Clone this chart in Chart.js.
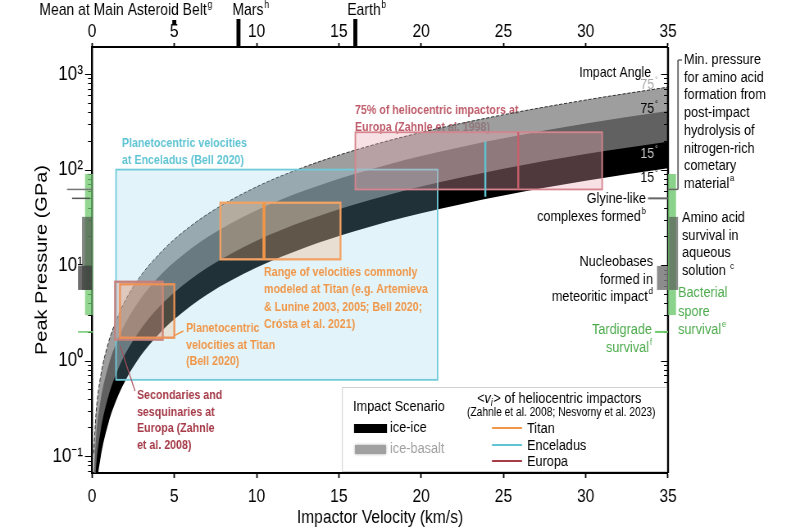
<!DOCTYPE html>
<html>
<head>
<meta charset="utf-8">
<script src="https://cdn.jsdelivr.net/npm/chart.js@4.4.1/dist/chart.umd.min.js"></script>
<style>
  html, body { margin: 0; padding: 0; background: #fff; overflow: hidden; }
  /* the figure is horizontally condensed, so draw it wider and squeeze it */
  #wrap { width: 976px; height: 530px; transform: scaleX(0.819672); transform-origin: 0 0; }
</style>
</head>
<body>
<div id="wrap"><canvas id="chart"></canvas></div>
<script>
//* Data

// velocities (km/s) where the peak pressure curves were read
const velocity = [0.1, 0.25, 0.5, 1, 1.5, 2, 3, 4, 5, 7, 10, 13, 16, 20, 25, 30, 35];
// peak pressure (GPa) per impact scenario and impact angle
const iceBasalt75 = [0.107, 0.29, 0.65, 1.55, 2.7, 4.2, 7.9, 12.6, 18.6, 34, 66, 108, 160, 245, 375, 535, 730];
const iceIce75    = [0.060, 0.163, 0.365, 0.89, 1.57, 2.42, 4.58, 7.38, 10.8, 19.6, 37.6, 61.2, 90.7, 139, 213, 304, 410];
const iceBasalt15 = [0.029, 0.078, 0.175, 0.426, 0.754, 1.16, 2.19, 3.54, 5.18, 9.39, 18.0, 29.3, 43.4, 66.5, 102, 146, 196];
const iceIce15    = [0.0151, 0.041, 0.0916, 0.223, 0.395, 0.607, 1.15, 1.85, 2.71, 4.92, 9.43, 15.4, 22.8, 34.9, 53.5, 76.3, 103];

// velocity / pressure ranges of the boxes
const enceladusVel = [1.46, 21.0],  enceladusP = [0.63, 100];
const titanModelVel = [7.8, 15.1],  titanModelP = [11.5, 45];
const titanPlanVel = [1.7, 5.0],    titanPlanP = [1.74, 6.3];
const europaSecVel = [1.4, 4.3],    europaSecP = [1.66, 6.7];
const europaHelioVel = [16.0, 31.0], europaHelioP = [62, 246];

// mean heliocentric impact velocities (km/s) and the pressure span of their marks
const helioNames = ['Titan', 'Enceladus', 'Europa'];
const helioVel = [10.45, 23.9, 25.9];
const helioPLow = [11.5, 52, 62];
const helioPHigh = [45, 198, 246];

// top axis markers (km/s)
const topNames = ['Mean at Main Asteroid Belt', 'Mars', 'Earth'];
const topNotes = ['g', 'h', 'b'];
const topVel = [5.0, 8.9, 16.0];

// biology / chemistry pressure thresholds (GPa)
const aminoFormationMin = 62;
const glycineComplexes = 50;
const sporeRange = [3, 90];
const aminoSurvivalRange = [5.5, 32];
const nucleobaseRange = [5.5, 9.8];
const tardigradeP = 2.0;

// axes
const velTicks = [0, 5, 10, 15, 20, 25, 30, 35];
const yMin = 0.0667, yMax = 1920;
const pressureTicks = [];
for (let e = -2; e <= 3; e++) {
  for (let m = 1; m <= 9; m++) {
    const v = +(m * Math.pow(10, e)).toPrecision(3);
    if (v >= yMin && v <= yMax) pressureTicks.push(v);
  }
}

// horizontal squeeze: screen px -> canvas px
const SQ = 800 / 976;
const X = px => px / SQ;

const SANS = "'Liberation Sans', Arial, sans-serif";

const SUP = { '-': '\u207B', '0': '\u2070', '1': '\u00B9', '2': '\u00B2', '3': '\u00B3' };
const powLabel = e => '10' + String(e).split('').map(c => SUP[c]).join('');
const isPow10 = v => Math.abs(Math.log10(v) - Math.round(Math.log10(v))) < 1e-6;

// colours
const cyan = 'rgb(96,196,212)';
const orange = 'rgb(240,150,72)';
const roseText = 'rgb(190,92,106)';
const brickText = 'rgb(165,58,72)';
const green = 'rgb(76,170,76)';

//* text helpers (x in canvas px)
function txt(ctx, s, x, y, opt = {}) {
  const size = opt.size || 15.5;
  const font = (opt.italic ? 'italic ' : '') + (opt.bold ? 'bold ' : '') + size + 'px ' + SANS;
  const supFont = (opt.bold ? 'bold ' : '') + (size * 0.62).toFixed(1) + 'px ' + SANS;
  ctx.font = font;
  const w = ctx.measureText(s).width;
  let supW = 0;
  if (opt.sup) { ctx.font = supFont; supW = ctx.measureText(opt.sup).width + 1; }
  let x0 = x;
  if (opt.align === 'right') x0 = x - w - supW;
  if (opt.align === 'center') x0 = x - (w + supW) / 2;
  ctx.fillStyle = opt.color || '#000';
  ctx.textAlign = 'left';
  ctx.textBaseline = 'alphabetic';
  ctx.font = font;
  ctx.fillText(s, x0, y);
  if (opt.sup) { ctx.font = supFont; ctx.fillText(opt.sup, x0 + w + 1, y - size * 0.42); }
  return x0 + w + supW;
}

function block(ctx, lines, x, y0, step, opt) {
  lines.forEach((l, i) => {
    const o = Object.assign({}, opt);
    let s = l;
    if (Array.isArray(l)) { s = l[0]; o.sup = l[1]; }
    txt(ctx, s, x, y0 + i * step, o);
  });
}

function box(ctx, xs, ys, vr, pr, stroke, fill, lw) {
  const x0 = xs.getPixelForValue(vr[0]), x1 = xs.getPixelForValue(vr[1]);
  const y0 = ys.getPixelForValue(pr[1]), y1 = ys.getPixelForValue(pr[0]);
  ctx.fillStyle = fill;
  ctx.fillRect(x0, y0, x1 - x0, y1 - y0);
  ctx.strokeStyle = stroke;
  ctx.lineWidth = lw;
  ctx.strokeRect(x0, y0, x1 - x0, y1 - y0);
}

function line(ctx, x0, y0, x1, y1, color, lw) {
  ctx.beginPath();
  ctx.moveTo(x0, y0);
  ctx.lineTo(x1, y1);
  ctx.strokeStyle = color;
  ctx.lineWidth = lw;
  ctx.stroke();
}

function bar(ctx, ys, x0, x1, pr, color) {
  const y0 = ys.getPixelForValue(pr[1]), y1 = ys.getPixelForValue(pr[0]);
  ctx.fillStyle = color;
  ctx.fillRect(x0, y0, x1 - x0, y1 - y0);
}

//* plugin: text that sits under the band
const underBand = {
  id: 'underBand',
  beforeDatasetsDraw(chart) {
    const ctx = chart.ctx;
    ctx.save();
    block(ctx, ['75% of heliocentric impactors at', 'Europa (Zahnle et al. 1998)'], X(355), 114, 17,
      { size: 13, bold: true, color: roseText });
    ctx.restore();
  }
};

//* plugin: boxes, marks, annotations, legend
const overlay = {
  id: 'overlay',
  afterDatasetsDraw(chart) {
    const ctx = chart.ctx;
    const xs = chart.scales.x, ys = chart.scales.y, xt = chart.scales.x2;
    const a = chart.chartArea;
    ctx.save();
    ctx.beginPath();
    ctx.rect(a.left, a.top, a.right - a.left, a.bottom - a.top);
    ctx.clip();

    // boxes
    box(ctx, xs, ys, enceladusVel, enceladusP, 'rgb(112,202,216)', 'rgba(135,210,230,0.24)', 1.8);
    box(ctx, xs, ys, titanModelVel, titanModelP, 'rgb(242,162,100)', 'rgba(246,176,120,0.30)', 2.3);
    box(ctx, xs, ys, europaSecVel, europaSecP, 'rgb(196,128,124)', 'rgba(205,145,140,0.32)', 2.3);
    box(ctx, xs, ys, titanPlanVel, titanPlanP, 'rgb(236,146,86)', 'rgba(240,160,100,0.22)', 2.3);
    box(ctx, xs, ys, europaHelioVel, europaHelioP, 'rgb(214,132,142)', 'rgba(232,166,176,0.34)', 1.8);

    // mean heliocentric velocities
    const helioColors = [orange, cyan, 'rgb(200,96,108)'];
    const helioWidths = [X(3), X(2), X(2)];
    helioVel.forEach((v, i) => {
      const x = xs.getPixelForValue(v);
      line(ctx, x, ys.getPixelForValue(helioPLow[i]), x, ys.getPixelForValue(helioPHigh[i]), helioColors[i], helioWidths[i]);
    });
    ctx.restore();

    ctx.save();
    // right frame
    line(ctx, a.right, a.top, a.right, a.bottom, '#000', X(2));

    // pressure tick marks: outward on the left, inward on the right
    pressureTicks.forEach(v => {
      const y = Math.round(ys.getPixelForValue(v)) + 0.5;
      const len = X(isPow10(v) ? 7 : 4);
      line(ctx, a.left - len, y, a.left, y, '#000', 1);
      line(ctx, a.right - len, y, a.right, y, '#000', 1);
    });

    // left-side threshold marks
    bar(ctx, ys, X(85), X(93), sporeRange, 'rgba(110,200,110,0.75)');
    bar(ctx, ys, X(82), X(92), aminoSurvivalRange, 'rgba(80,90,80,0.72)');
    bar(ctx, ys, X(78), X(92), nucleobaseRange, 'rgba(60,60,60,0.75)');
    line(ctx, X(67), ys.getPixelForValue(aminoFormationMin), X(92), ys.getPixelForValue(aminoFormationMin), '#777', 1.5);
    line(ctx, X(72), ys.getPixelForValue(glycineComplexes), X(90), ys.getPixelForValue(glycineComplexes), '#555', 1.5);
    line(ctx, X(78), ys.getPixelForValue(tardigradeP), X(93), ys.getPixelForValue(tardigradeP), 'rgb(110,200,110)', 1.5);

    // right-side threshold marks
    bar(ctx, ys, a.right, a.right + X(8), sporeRange, 'rgba(110,200,110,0.8)');
    bar(ctx, ys, a.right + X(1), a.right + X(10), aminoSurvivalRange, 'rgba(90,95,90,0.72)');
    bar(ctx, ys, a.right - X(11), a.right, nucleobaseRange, 'rgba(120,120,120,0.85)');
    const yAF = ys.getPixelForValue(aminoFormationMin);
    line(ctx, a.right, yAF, a.right + X(10), yAF, '#666', 1.5);
    line(ctx, a.right + X(10), yAF, a.right + X(10), 60, '#666', X(1.5));
    line(ctx, a.right + X(10), 60, a.right + X(14), 60, '#666', 1.5);
    const yG = ys.getPixelForValue(glycineComplexes);
    line(ctx, a.right - X(20), yG, a.right, yG, '#666', 2);
    const yT = ys.getPixelForValue(tardigradeP);
    line(ctx, a.right - X(13), yT, a.right, yT, 'rgb(110,200,110)', 2);

    // right-side texts
    block(ctx, ['Min. pressure', 'for amino acid', 'formation from', 'post-impact', 'hydrolysis of',
      'nitrogen-rich', 'cometary', ['material', 'a']], X(684), 64, 17.7, { size: 15.5 });
    block(ctx, ['Glyine-like', ['complexes formed', 'b']], X(646), 203, 17.5, { size: 15.5, align: 'right' });
    block(ctx, ['Amino acid', 'survival in', 'aqueous', ['solution ', 'c']], X(682), 222, 17.7, { size: 15.5 });
    block(ctx, ['Nucleobases', 'formed in', ['meteoritic impact', 'd']], X(653), 266, 17.5, { size: 15.5, align: 'right' });
    block(ctx, ['Bacterial', 'spore', ['survival', 'e']], X(678), 297, 18.5, { size: 15.5, color: green });
    block(ctx, ['Tardigrade', ['survival', 'f']], X(652), 334, 17.5, { size: 15.5, color: green, align: 'right' });

    // impact angles
    txt(ctx, 'Impact Angle', X(651), 77, { size: 15, align: 'right' });
    txt(ctx, '75', X(658), 89, { size: 15, color: '#a8a8a8', align: 'right', sup: '\u00B0' });
    txt(ctx, '75', X(658), 113, { size: 15, color: '#000', align: 'right', sup: '\u00B0' });
    txt(ctx, '15', X(658), 158, { size: 15, color: '#c8c8c8', align: 'right', sup: '\u00B0' });
    txt(ctx, '15', X(658), 182, { size: 15, color: '#000', align: 'right', sup: '\u00B0' });

    // box labels
    block(ctx, ['Planetocentric velocities', 'at Enceladus (Bell 2020)'], X(122), 147, 17, { size: 13, bold: true, color: cyan });
    block(ctx, ['Range of velocities commonly', 'modeled at Titan (e.g. Artemieva', '& Lunine 2003, 2005; Bell 2020;',
      'Cr\u00F3sta et al. 2021)'], X(264), 276, 17.3, { size: 13, bold: true, color: orange });
    block(ctx, ['Planetocentric', 'velocities at Titan', '(Bell 2020)'], X(186), 332, 16.5, { size: 13, bold: true, color: orange });
    block(ctx, ['Secondaries and', 'sesquinaries at', 'Europa (Zahnle', 'et al. 2008)'], X(137), 399, 16.7,
      { size: 13, bold: true, color: brickText });
    const tpx = xs.getPixelForValue(titanPlanVel[1]);
    line(ctx, tpx, ys.getPixelForValue(titanPlanP[0]) - 2, tpx + X(9), 331, orange, 1.5);
    line(ctx, xs.getPixelForValue(europaSecVel[0]) + X(5), ys.getPixelForValue(europaSecP[0]) + 6, X(135), 391, 'rgb(170,80,90)', 1.2);

    // top axis markers
    topVel.forEach((v, i) => {
      const x = xt.getPixelForValue(v);
      const top = i === 0 ? 20 : 19;
      const bot = i === 0 ? 25 : a.top;
      ctx.fillStyle = '#000';
      ctx.fillRect(x - X(2), top, X(4), bot - top);
    });
    txt(ctx, topNames[0], xt.getPixelForValue(topVel[0]) + X(38), 15, { size: 17, align: 'right', sup: topNotes[0] });
    txt(ctx, topNames[1], xt.getPixelForValue(topVel[1]) - X(6), 15, { size: 17, sup: topNotes[1] });
    txt(ctx, topNames[2], xt.getPixelForValue(topVel[2]) - X(8), 15, { size: 17, sup: topNotes[2] });

    // legend
    const lx = X(342), ly = 387;
    ctx.fillStyle = '#fff';
    ctx.fillRect(lx, ly, a.right - lx - 1, a.bottom - ly - 1);
    ctx.strokeStyle = '#d0d0d0';
    ctx.lineWidth = 1;
    ctx.strokeRect(lx + 0.5, ly + 0.5, a.right - lx - 2, a.bottom - ly - 2);
    txt(ctx, 'Impact Scenario', X(353), 411, { size: 15.5 });
    ctx.fillStyle = '#000';
    ctx.fillRect(X(354), 424, X(33), 9);
    txt(ctx, 'ice-ice', X(390), 432, { size: 15.5 });
    ctx.save();
    ctx.shadowColor = 'rgba(150,150,150,0.9)';
    ctx.shadowBlur = 3;
    ctx.fillStyle = '#a0a0a0';
    ctx.fillRect(X(355), 445, X(31), 9);
    ctx.restore();
    txt(ctx, 'ice-basalt', X(390), 453, { size: 15.5, color: '#a0a0a0' });

    // <v_i> heading
    let hx = X(477);
    hx = txt(ctx, '<', hx, 403, { size: 15.5 });
    hx = txt(ctx, 'v', hx, 403, { size: 15.5, italic: true });
    hx = txt(ctx, 'i', hx, 406, { size: 10, italic: true }) + 1;
    txt(ctx, '> of heliocentric impactors', hx, 403, { size: 15.5 });
    txt(ctx, '(Zahnle et al. 2008; Nesvorny et al. 2023)', X(467), 416, { size: 12.5 });
    const legColors = [orange, cyan, 'rgb(165,60,72)'];
    const legY = [428, 445, 461];
    helioNames.forEach((n, i) => {
      line(ctx, X(492), legY[i], X(522), legY[i], legColors[i], 2);
      txt(ctx, n, X(527), legY[i] + 5, { size: 15.5 });
    });
    ctx.restore();
  }
};

//* Chart
const pts = arr => velocity.map((v, i) => ({ x: v, y: arr[i] }));

const ctx = document.getElementById('chart').getContext('2d');
new Chart(ctx, {
  type: 'line',
  data: {
    datasets: [
      { label: 'ice-ice 15', data: pts(iceIce15), borderWidth: 0, pointRadius: 0, fill: false, order: 3 },
      { label: 'ice-ice 75', data: pts(iceIce75), borderWidth: 0, pointRadius: 0, fill: 0,
        backgroundColor: '#000', order: 2 },
      { label: 'ice-basalt 15', data: pts(iceBasalt15), borderWidth: 0, pointRadius: 0, fill: false, order: 3 },
      { label: 'ice-basalt 75', data: pts(iceBasalt75), borderWidth: 1, borderColor: '#333', borderDash: [4, 2],
        pointRadius: 0, fill: 2, backgroundColor: 'rgba(128,128,128,0.76)', order: 1 },
    ]
  },
  options: {
    responsive: true,
    maintainAspectRatio: false,
    animation: false,
    devicePixelRatio: 1,
    layout: { padding: { left: 0, right: X(132), top: 0, bottom: 0 } },
    elements: { line: { cubicInterpolationMode: 'monotone' } },
    plugins: { legend: { display: false }, tooltip: { enabled: false } },
    scales: {
      x: {
        type: 'linear', position: 'bottom', min: 0, max: 35,
        afterFit: s => { s.height = 57; },
        afterBuildTicks: s => { s.ticks = velTicks.map(v => ({ value: v })); },
        ticks: { font: { family: SANS, size: 19 }, color: '#000', padding: 7, maxRotation: 0 },
        grid: { drawOnChartArea: false, tickLength: 5, color: '#000', tickWidth: 1.8 },
        border: { color: '#000', width: 2 },
        title: { display: true, text: 'Impactor Velocity (km/s)', color: '#000',
          font: { family: SANS, size: 19 }, padding: { top: 0, bottom: 1 } }
      },
      x2: {
        type: 'linear', position: 'top', min: 0, max: 35,
        afterFit: s => { s.height = 47; },
        afterBuildTicks: s => { s.ticks = velTicks.map(v => ({ value: v })); },
        ticks: { font: { family: SANS, size: 19 }, color: '#000', padding: 0, maxRotation: 0 },
        grid: { drawOnChartArea: false, tickLength: 4, color: '#000', tickWidth: 1.8 },
        border: { color: '#000', width: 2 }
      },
      y: {
        type: 'logarithmic', position: 'left', min: yMin, max: yMax,
        afterFit: s => { s.width = X(92); },
        afterBuildTicks: s => { s.ticks = pressureTicks.map(v => ({ value: v })); },
        ticks: { autoSkip: false, font: { family: SANS, size: 21 }, color: '#000', padding: X(9),
          callback: v => isPow10(v) ? powLabel(Math.round(Math.log10(v))) : '' },
        grid: { drawOnChartArea: false, drawTicks: false },
        border: { color: '#000', width: X(2) },
        title: { display: true, text: 'Peak Pressure (GPa)', color: '#000',
          font: { family: SANS, size: 20 }, padding: { top: 39, bottom: 0 } }
      }
    }
  },
  plugins: [underBand, overlay]
});
</script>
</body>
</html>
